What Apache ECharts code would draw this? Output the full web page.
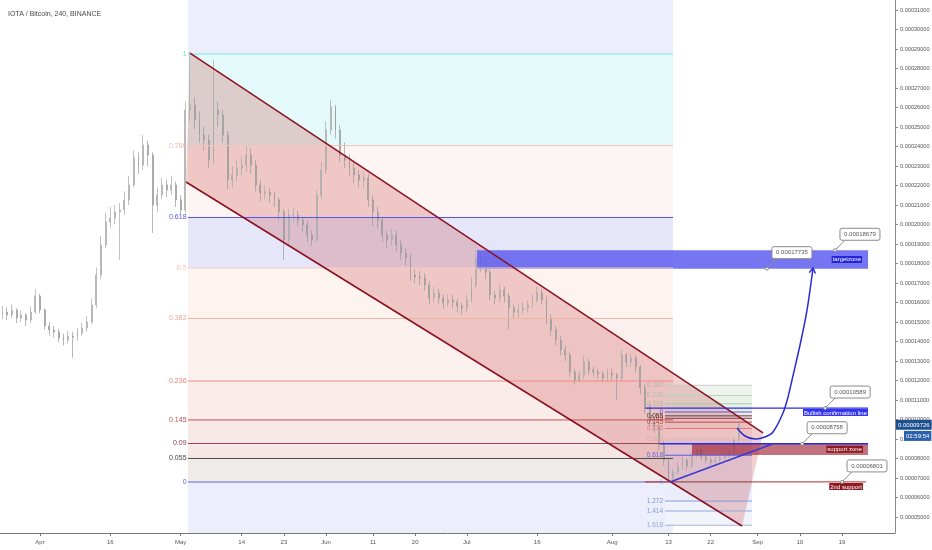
<!DOCTYPE html>
<html>
<head>
<meta charset="utf-8">
<script src="https://cdn.jsdelivr.net/npm/echarts@6/dist/echarts.min.js"></script>
<style>
html,body{margin:0;padding:0;background:#ffffff;}
#chart{width:932px;height:550px;}
</style>
</head>
<body>
<div id="chart"></div>
<script>
// ===== DATA (prices in satoshi = 1e-8 BTC) =====
const candleStart = '2018-03-24';
const openP = [
15400,15510,15360,15620,15210,15360,15100,15510,16330,15620,
14800,14590,14490,14180,14080,14280,14230,14440,14690,15000,
15870,17410,18950,20130,20330,20640,20740,21260,22030,23410,
23050,24080,23560,21000,21510,22030,21770,22030,21260,20740,
25870,26130,25360,24590,24330,23310,25870,25620,24590,22280,
22540,22900,23050,23560,23050,22030,21620,21670,21510,21260,
20640,19210,20490,20490,20230,19980,19460,19210,21510,22800,
24850,26030,24850,23560,23310,22900,22540,22280,22390,21260,
20640,20230,19460,19210,19460,18950,18540,18280,17410,17310,
17260,16900,16230,16490,16230,15980,16130,16030,15820,15720,
16130,16900,18280,18080,17570,16390,16230,16640,16330,15720,
15510,15620,15720,15870,16130,16490,16130,15210,14590,14080,
13570,13310,12440,12030,12280,12950,12540,12440,12330,12130,
12390,12280,12130,13310,12950,13160,12690,11620,10640,9870,
9620,8690,7920,7000,7310,7570,7920,7620,8180,8440,
8080,7920,7820,7920,8030,8130,8330,8950];
const closeP = [
15510,15360,15620,15210,15360,15100,15510,16330,15620,14800,
14590,14490,14180,14080,14280,14230,14440,14690,15000,15870,
17410,18950,20130,20330,20640,20740,21260,22030,23410,23050,
24080,23560,21000,21510,22030,21770,22030,21260,20740,25870,
26130,25360,24590,24330,23310,25870,25620,24590,22280,22540,
22900,23050,23560,23050,22030,21620,21670,21510,21260,20640,
19210,20490,20490,20230,19980,19460,19210,21510,22800,24850,
26030,24850,23560,23310,22900,22540,22280,22390,21260,20640,
20230,19460,19210,19460,18950,18540,18280,17410,17310,17260,
16900,16230,16490,16230,15980,16130,16030,15820,15720,16130,
16900,18280,18080,17570,16390,16230,16640,16330,15720,15510,
15620,15720,15870,16130,16490,16130,15210,14590,14080,13570,
13310,12440,12030,12280,12950,12540,12440,12330,12130,12390,
12280,12130,13310,12950,13160,12690,11620,10640,9870,9620,
8690,7920,7000,7310,7570,7920,7620,8180,8440,8080,
7920,7820,7920,8030,8130,8330,8950,9726];
const lowP = [
15150,15100,15200,14950,15000,14800,14950,15400,15450,14600,
14300,14200,13950,13800,13900,13160,14050,14300,14500,14900,
15700,17200,18800,19800,20000,18180,20500,21000,21900,22600,
22800,23000,19570,20600,21300,21400,21500,20900,20500,20600,
25300,24900,24200,23800,22900,23100,25000,24200,21800,21900,
22200,22500,22700,22600,21700,21200,21300,21100,20900,20200,
18180,19000,20100,19900,19600,19100,18900,19100,21300,22600,
24600,24400,23200,22900,22500,22100,21900,21900,20900,19900,
19800,19100,18800,18900,18600,18200,17900,17100,17000,16900,
16600,15900,16000,15900,15700,15800,15700,15500,15400,15500,
16000,16700,17600,17200,16100,15900,16000,16000,14600,15200,
15200,15400,15500,15700,16000,15900,14900,14300,13800,13300,
13000,12200,11800,11900,12100,12300,12200,12100,11900,12000,
12000,11000,12000,12700,12700,12400,11300,10300,9600,9300,
8400,7650,6800,6900,7200,7400,7400,7500,8050,7900,
7750,7650,7700,7800,7900,8000,8200,8850];
const highP = [
15820,15750,15900,15700,15600,15450,15800,16700,16450,15700,
15000,14800,14650,14400,14550,14500,14700,14950,15300,16200,
17800,19400,20600,20900,21000,21100,21700,22500,23800,23700,
24590,24300,23700,21900,22400,22300,22500,22200,21500,26300,
28850,26500,25800,25000,24600,28440,26300,25900,24800,23000,
23300,23500,24000,23900,23300,22300,22000,21900,21700,21400,
20800,20800,20900,20700,20400,20200,19700,21800,23200,25300,
26400,26130,25100,24200,23600,23200,22800,22700,22600,21500,
20900,20400,19700,19800,19700,19200,18800,18500,17700,17600,
17500,17100,16800,16700,16400,16400,16400,16200,16000,16400,
17300,18690,18500,18200,17700,16600,16900,16800,16500,15900,
15900,16000,16100,16400,16800,16700,16300,15400,14800,14300,
13800,13500,12600,12500,13300,13100,12700,12600,12500,12600,
12600,12400,13570,13400,13400,13300,12800,11800,10800,10100,
9800,8900,8000,7500,7800,8100,8000,8350,8590,8500,
8200,8050,8100,8200,8300,8500,9100,9850];

const priceTicks = [5000,6000,7000,8000,9000,10000,11000,12000,13000,14000,15000,16000,17000,18000,19000,20000,21000,22000,23000,24000,25000,26000,27000,28000,29000,30000,31000];
const dateTicks = ['2018-04-01','2018-04-16','2018-05-01','2018-05-14','2018-05-23','2018-06-01','2018-06-11','2018-06-20','2018-07-01','2018-07-16','2018-08-01','2018-08-13','2018-08-22','2018-09-01','2018-09-10','2018-09-19'];
const dateTickLabels = ['Apr','16','May','14','23','Jun','11','20','Jul','16','Aug','13','22','Sep','10','19'];

const fibTimes = ['2018-05-02 13:26', '2018-08-13 23:15'];
const fibPrices = [6796, 28744];            // level 0, level 1
const fibLevels = [1, 0.786, 0.618, 0.5, 0.382, 0.236, 0.145, 0.09, 0.055, 0];
const fibLabels = ['1','0.786','0.618','0.5','0.382','0.236','0.145','0.09','0.055','0'];

const fib2Times = ['2018-08-12 06:15', '2018-08-30 19:15'];
const fib2Prices = [10386, 6796];           // level 0, level 1
const fib2Levels = [-0.382, -0.236, -0.118, 0, 0.055, 0.09, 0.145, 0.236, 0.382, 0.618, 1, 1.272, 1.414, 1.618];
const fib2Labels = ['-0.382','-0.236','-0.118','0','0.055','0.09','0.145','0.236','0.382','0.618','1','1.272','1.414','1.618'];

const channelUpperTimes = ['2018-05-02 23:40', '2018-09-02 03:50'];
const channelUpperPrices = [28795, 9309];
const channelLowerTimes = ['2018-05-02 03:10', '2018-08-28 16:20'];
const channelLowerPrices = [22180, 4540];

const targetZonePrices = [18679, 17735];
const targetZoneTimes = ['2018-07-03 04:20', '2018-09-24 13:10'];
const bullishPrice = 10589;
const bullishTimes = ['2018-08-08 00:00', '2018-09-24 13:10'];
const supportZonePrices = [8758, 8181];
const supportZoneTimes = ['2018-08-18 00:30', '2018-09-24 13:10'];
const supportLineTimes = ['2018-08-11 04:50', '2018-09-24 13:10'];
const support2Price = 6801;
const support2Times = ['2018-08-08 00:00', '2018-09-24 02:25'];
const triangleTimes = ['2018-08-13 08:00', '2018-09-04 07:00'];
const trianglePrices = [6796, 8758];
const arrowTimes = ['2018-08-27 14:40','2018-08-29 07:40','2018-08-31 10:50','2018-09-02 13:55','2018-09-04 07:00','2018-09-06 10:00','2018-09-07 11:45','2018-09-08 08:10','2018-09-10 01:10','2018-09-11 13:00','2018-09-12 19:40'];
const arrowPrices = [9565, 9155, 9001, 9104, 9360, 10334, 11154, 12027, 13821, 15616, 17770];
const calloutTimes = ['2018-09-03 00:00','2018-09-17 12:00','2018-09-15 09:40','2018-09-10 11:50','2018-09-19 00:00'];
const calloutPrices = [17735, 18679, 10589, 8758, 6801];
const tagTexts = ['targetzone', 'Bullish confirmation line', 'support zone', '2nd support'];
const lastPrice = 9726;
const countdownText = '02:59:54';
const titleText = 'IOTA / Bitcoin, 240, BINANCE';

// ===== helpers / styles =====
const ts = s => { const p = s.split(' '); return Date.parse(p[0] + 'T' + (p[1] || '00:00') + ':00Z'); };
const DAY = 86400000;
const FONT = 'Liberation Sans, Arial, sans-serif';
const NARROW = 'Liberation Sans Narrow, Liberation Sans, Arial, sans-serif';
const Y_MIN = 4181, Y_MAX = 31513;
const X_MIN = ts('2018-04-01') - 8.53 * DAY, X_MAX = ts('2018-04-01') + 182.3 * DAY;
const fmtP = v => (v / 1e8).toFixed(8);
const fibPrice = (p, l) => p[0] + l * (p[1] - p[0]);

const fibZoneColors = ['#e4fafa','#fdf5f3','#e6e6fa','#fdf4f0','#fcf0ee','#f9ecea','#f8e9e9','#f6e7e7','#eeebe9'];
const fibLineColors = ['#86e0e6','#f2c6c0','#5656e0','#f3cdbf','#efb5a6','#ef8a84','#c25450','#9a4658','#4a4a4a','#6262dc'];
const fibLabelColors = ['#6fd6de','#efb9b2','#5656e0','#efc2b2','#e8a89a','#e8807a','#b84c48','#8e4050','#444','#6262dc'];
const fib2ZoneColors = ['#eef3ee','#e9f2e9','#e6f0e6','#f3e6e6','#f3e4e4','#f5e4e4','#f7e8e8','#f9eeee','#ebe8f8','#e8e8f8','#e9eefa','#eef2fb','#f1f4fb'];
const fib2LineColors = ['#c9c9c9','#b9d2b9','#a9cfa9','#5c5ce6','#4a4a4a','#8e3a4a','#b84a46','#e07c78','#ecbcb2','#5c5ce6','#7fe0e6','#8c9ad6','#9aa6da','#a8b2de'];
const fib2LabelColors = ['#b5b5b5','#a9c2a9','#9bbf9b','#5c5ce6','#444','#8e3a4a','#b84a46','#e07c78','#e0aca2','#5c5ce6','#6fd6de','#8090d0','#8c9ad6','#9aa6da'];

// ===== shapes =====
const bg = [], mid = [], fg = [];
const f0 = ts(fibTimes[0]), f1 = ts(fibTimes[1]);
bg.push({k:'rect', a:[f0, Y_MAX], b:[f1, Y_MIN], fill:'#eceefb'});
for (let i = 0; i < fibLevels.length - 1; i++) {
  bg.push({k:'rect', a:[f0, fibPrice(fibPrices, fibLevels[i])], b:[f1, fibPrice(fibPrices, fibLevels[i+1])], fill:fibZoneColors[i]});
}
const g0 = ts(fib2Times[0]), g1 = ts(fib2Times[1]);
for (let i = 0; i < fib2Levels.length - 1; i++) {
  bg.push({k:'rect', a:[g0, fibPrice(fib2Prices, fib2Levels[i])], b:[g1, fibPrice(fib2Prices, fib2Levels[i+1])], fill:fib2ZoneColors[i]});
}
bg.push({k:'poly', fill:'rgba(190,40,40,0.22)', pts:[
  [ts(channelUpperTimes[0]), channelUpperPrices[0]], [ts(channelUpperTimes[1]), channelUpperPrices[1]],
  [ts(channelLowerTimes[1]), channelLowerPrices[1]], [ts(channelLowerTimes[0]), channelLowerPrices[0]]]});

mid.push({k:'rect', a:[ts(targetZoneTimes[0]), targetZonePrices[0]], b:[ts(targetZoneTimes[1]), targetZonePrices[1]], fill:'rgba(96,96,240,0.86)'});
mid.push({k:'rect', a:[ts(supportZoneTimes[0]), supportZonePrices[0]], b:[ts(supportZoneTimes[1]), supportZonePrices[1]], fill:'rgba(150,20,40,0.6)'});

fibLevels.forEach((l, i) => {
  const p = fibPrice(fibPrices, l);
  fg.push({k:'line', pts:[[f0, p], [f1, p]], stroke:fibLineColors[i], lw:1});
  fg.push({k:'text', at:[f0, p], dx:-1.5, text:fibLabels[i], color:fibLabelColors[i], size:7, align:'right'});
});
fib2Levels.forEach((l, i) => {
  const p = fibPrice(fib2Prices, l);
  fg.push({k:'line', pts:[[g0, p], [g1, p]], stroke:fib2LineColors[i], lw:1});
  fg.push({k:'text', at:[g0, p], dx:-2, text:fib2Labels[i], color:fib2LabelColors[i], size:6.5, align:'right'});
});
fg.push({k:'line', pts:channelUpperTimes.map((t, i) => [ts(t), channelUpperPrices[i]]), stroke:'#8b1020', lw:1.5});
fg.push({k:'line', pts:channelLowerTimes.map((t, i) => [ts(t), channelLowerPrices[i]]), stroke:'#8b1020', lw:1.5});
fg.push({k:'line', pts:bullishTimes.map(t => [ts(t), bullishPrice]), stroke:'#2a2ae0', lw:1.3});
fg.push({k:'line', pts:supportLineTimes.map(t => [ts(t), supportZonePrices[0]]), stroke:'#2a2ae0', lw:1.3});
fg.push({k:'line', pts:support2Times.map(t => [ts(t), support2Price]), stroke:'#b52a2a', lw:1});
fg.push({k:'line', pts:triangleTimes.map((t, i) => [ts(t), trianglePrices[i]]), stroke:'#3a3ad0', lw:1.5});
const arrowPts = arrowTimes.map((t, i) => [ts(t), arrowPrices[i]]);
fg.push({k:'line', pts:arrowPts, stroke:'#2a2ad8', lw:1.5, smooth:0.3});
fg.push({k:'arrowhead', tip:arrowPts[arrowPts.length-1], prev:arrowPts[arrowPts.length-2], stroke:'#2a2ad8', lw:1.5});

fg.push({k:'text', at:[ts(targetZoneTimes[1]), (targetZonePrices[0] + targetZonePrices[1]) / 2], dx:-6, text:tagTexts[0], color:'#fff', bg:'#2424dc', size:6, font:NARROW, align:'right', pad:[1,1,0,1]});
fg.push({k:'text', at:[ts(bullishTimes[1]), bullishPrice], dx:0, dy:1, va:'top', text:tagTexts[1], color:'#fff', bg:'#3535f0', size:6, font:NARROW, align:'right', pad:[1,1,0,1]});
fg.push({k:'text', at:[ts(supportZoneTimes[1]), (supportZonePrices[0] + supportZonePrices[1]) / 2], dx:-5, text:tagTexts[2], color:'#fff', bg:'#8b1a22', size:6, font:NARROW, align:'right', pad:[1,1,0,1]});
fg.push({k:'text', at:[ts(support2Times[1]), support2Price], dx:-3, dy:1, va:'top', text:tagTexts[3], color:'#fff', bg:'#8b1a22', size:6, font:NARROW, align:'right', pad:[1,1,0,1]});
calloutTimes.forEach((t, i) => fg.push({k:'callout', at:[ts(t), calloutPrices[i]], text:fmtP(calloutPrices[i])}));
fg.push({k:'text', at:[X_MAX, lastPrice], dx:1, text:fmtP(lastPrice), color:'#fff', bg:'#1e4f8f', size:6, font:NARROW, align:'left', pad:[2,2,2,2]});
fg.push({k:'text', at:[X_MAX, lastPrice], dx:9, dy:11, text:countdownText, color:'#fff', bg:'#2b62ad', size:6, font:NARROW, align:'left', pad:[2,2,2,2]});

function build(s, api, i) {
  const c = p => api.coord([p[0], p[1]]);
  const z = i * 10;
  if (s.k === 'rect') {
    const p1 = c(s.a), p2 = c(s.b);
    return {type:'rect', z2:z, shape:{x:Math.min(p1[0],p2[0]), y:Math.min(p1[1],p2[1]), width:Math.abs(p2[0]-p1[0]), height:Math.abs(p2[1]-p1[1])}, style:{fill:s.fill}};
  }
  if (s.k === 'poly') return {type:'polygon', z2:z, shape:{points:s.pts.map(c)}, style:{fill:s.fill}};
  if (s.k === 'line') return {type:'polyline', z2:z, shape:{points:s.pts.map(c), smooth:s.smooth || 0}, style:{stroke:s.stroke, lineWidth:s.lw || 1, fill:null}};
  if (s.k === 'arrowhead') {
    const tip = c(s.tip), prev = c(s.prev);
    let dx = tip[0]-prev[0], dy = tip[1]-prev[1]; const L = Math.hypot(dx, dy) || 1; dx /= L; dy /= L;
    const len = 6;
    const arm = a => [tip[0] - len*(dx*Math.cos(a) - dy*Math.sin(a)), tip[1] - len*(dx*Math.sin(a) + dy*Math.cos(a))];
    return {type:'polyline', z2:z, shape:{points:[arm(0.55), tip, arm(-0.55)]}, style:{stroke:s.stroke, lineWidth:s.lw, fill:null}};
  }
  if (s.k === 'text') {
    const p = c(s.at);
    return {type:'text', z2:z, x:p[0] + (s.dx || 0), y:p[1] + (s.dy || 0), style:{text:s.text, fill:s.color, fontSize:s.size || 6.5, fontFamily:s.font || FONT, align:s.align || 'left', verticalAlign:s.va || 'middle', backgroundColor:s.bg || null, padding:s.pad || 0}};
  }
  if (s.k === 'callout') {
    const p = c(s.at); const bx = p[0] + 5, by = p[1] - 22, bw = 40, bh = 12;
    return {type:'group', children:[
      {type:'line', z2:z, shape:{x1:bx + 5, y1:by + bh, x2:p[0], y2:p[1]}, style:{stroke:'#8c8c8c', lineWidth:1}},
      {type:'rect', z2:z+1, shape:{x:bx, y:by, width:bw, height:bh, r:2}, style:{fill:'#ffffff', stroke:'#8c8c8c', lineWidth:1}},
      {type:'text', z2:z+2, x:bx + bw/2, y:by + bh/2, style:{text:s.text, fill:'#555', fontSize:6, fontFamily:NARROW, align:'center', verticalAlign:'middle'}},
      {type:'circle', z2:z+3, shape:{cx:p[0], cy:p[1], r:1.5}, style:{fill:'#ffffff', stroke:'#8c8c8c', lineWidth:1}}
    ]};
  }
  return null;
}
function layer(shapes, z, clip) {
  return {type:'custom', z:z, clip:clip, silent:true, coordinateSystem:'cartesian2d',
    data:shapes.map(() => [X_MIN, Y_MIN]),
    renderItem:(params, api) => build(shapes[params.dataIndex], api, params.dataIndex)};
}

const t0 = ts(candleStart);
const candles = openP.map((o, i) => [t0 + i * DAY, o, closeP[i], lowP[i], highP[i]]);
const dateTickTimes = dateTicks.map(ts);

const chart = echarts.init(document.getElementById('chart'));
chart.setOption({
  animation:false,
  backgroundColor:'#ffffff',
  title:{text:titleText, left:3, top:6, textStyle:{fontSize:7, fontWeight:'normal', color:'#4a4a4a', fontFamily:FONT}},
  grid:{left:0, right:37, top:0, bottom:17, containLabel:false, outerBoundsMode:'none'},
  xAxis:{type:'value', min:X_MIN, max:X_MAX, splitLine:{show:false},
    axisLine:{lineStyle:{color:'#777', width:1}},
    axisTick:{show:true, length:3, lineStyle:{color:'#777'}, customValues:dateTickTimes},
    axisLabel:{customValues:dateTickTimes, margin:6, fontSize:6, color:'#555', fontFamily:FONT,
      formatter:v => { const i = dateTickTimes.indexOf(v); return i >= 0 ? dateTickLabels[i] : ''; }}},
  yAxis:{type:'value', position:'right', min:Y_MIN, max:Y_MAX, splitLine:{show:false},
    axisLine:{show:true, lineStyle:{color:'#8c8c8c', width:1}},
    axisTick:{show:true, length:3, lineStyle:{color:'#8c8c8c'}, customValues:priceTicks},
    axisLabel:{customValues:priceTicks, margin:5, fontSize:5.6, color:'#555', fontFamily:FONT, formatter:v => fmtP(v)}},
  series:[
    layer(bg, 1, true),
    {type:'candlestick', z:2, data:candles, encode:{x:0, y:[1,2,3,4]}, barWidth:1.4,
      itemStyle:{color:'#bdbdbd', color0:'#a6a6a6', borderColor:'#a8a8a8', borderColor0:'#9a9a9a', borderWidth:0.7}},
    layer(mid, 3, true),
    layer(fg, 4, false)
  ]
});
</script>
</body>
</html>
